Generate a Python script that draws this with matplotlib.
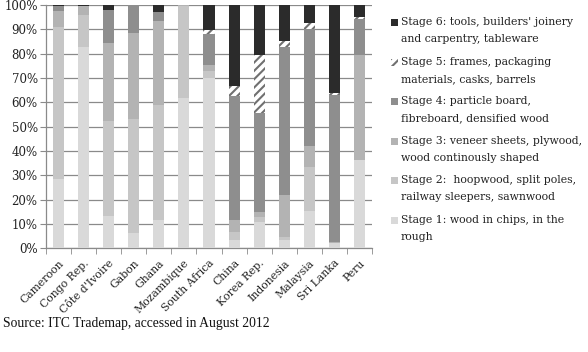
import matplotlib
matplotlib.use("Agg")
import matplotlib.pyplot as plt
from matplotlib.patches import Rectangle
import numpy as np

countries = ["Cameroon", "Congo Rep.", "Côte d'Ivoire", "Gabon", "Ghana", "Mozambique",
             "South Africa", "China", "Korea Rep.", "Indonesia", "Malaysia", "Sri Lanka", "Peru"]

stage1 = [28.4, 82.9, 13.3, 6.4, 11.6, 61.9, 69.9, 3.4, 11.0, 3.4, 15.5, 2.0, 36.3]
stage2 = [62.4, 13.0, 39.2, 46.8, 47.3, 37.8, 3.0, 3.2, 2.0, 1.4, 18.1, 0.3, 0.0]
stage3 = [6.8, 3.8, 31.7, 35.2, 34.7, 0.3, 2.4, 5.0, 2.0, 17.1, 8.6, 0.3, 43.2]
stage4 = [1.9, 0.0, 13.7, 11.6, 3.7, 0.0, 12.7, 51.1, 40.5, 61.0, 47.8, 60.4, 14.6]
stage5 = [0.0, 0.0, 0.0, 0.0, 0.0, 0.0, 1.9, 4.1, 24.0, 2.3, 2.5, 0.7, 0.9]
stage6 = [0.5, 0.3, 2.1, 0.0, 2.7, 0.0, 10.1, 33.2, 20.5, 14.8, 7.5, 36.3, 5.0]

stage_labels = [
    "Stage 1: wood in chips, in the\nrough",
    "Stage 2:  hoopwood, split poles,\nrailway sleepers, sawnwood",
    "Stage 3: veneer sheets, plywood,\nwood continously shaped",
    "Stage 4: particle board,\nfibreboard, densified wood",
    "Stage 5: frames, packaging\nmaterials, casks, barrels",
    "Stage 6: tools, builders' joinery\nand carpentry, tableware",
]
yticks = [0, 10, 20, 30, 40, 50, 60, 70, 80, 90, 100]
source = "Source: ITC Trademap, accessed in August 2012"

colors = ["#d9d9d9", "#c6c6c6", "#b3b3b3", "#8e8e8e", "#ffffff", "#2b2b2b"]
edges = ["none", "none", "none", "none", "#707070", "none"]
hatches = [None, None, None, None, "////", None]

serif = ["DejaVu Serif"]
plt.rcParams["hatch.linewidth"] = 1.5

fig = plt.figure(figsize=(5.88, 3.52), dpi=100)
ax = fig.add_axes([46/588, 1-248.3/352, (372-46)/588, (248.3-5)/352])

x = np.arange(len(countries))
series = [stage1, stage2, stage3, stage4, stage5, stage6]
bottom = np.zeros(len(countries))
for vals, c, e, h in zip(series, colors, edges, hatches):
    vals = np.array(vals)
    ax.bar(x, vals, 0.44, bottom=bottom, color=c, hatch=h, edgecolor=e, linewidth=0, zorder=3)
    bottom += vals

ax.set_xlim(-0.5, len(countries) - 0.5)
ax.set_ylim(0, 100)
ax.set_yticks(yticks)
ax.set_yticklabels([f"{v}%" for v in yticks], family=serif, fontsize=8.5, color="#222222")
ax.yaxis.grid(True, color="#8a8a8a", linewidth=0.9, zorder=0)
ax.set_axisbelow(True)
ax.set_xticks(x)
ax.set_xticklabels(countries, rotation=45, ha="right", rotation_mode="anchor",
                   family=serif, fontsize=7.8, color="#222222")
ax.set_xticks(np.arange(-0.5, len(countries)), minor=True)
ax.tick_params(axis="x", which="major", length=0, pad=7)
ax.tick_params(axis="x", which="minor", length=4, color="#8a8a8a")
ax.tick_params(axis="y", length=4, color="#8a8a8a", pad=2)
for s in ["top", "right"]:
    ax.spines[s].set_visible(False)
for s in ["left", "bottom"]:
    ax.spines[s].set_color("#8a8a8a")
    ax.spines[s].set_linewidth(0.9)

# legend (drawn manually, top entry = stage 6)
legend_y = [22, 62, 101, 141, 180, 220]
for i, idx in enumerate(range(5, -1, -1)):
    yc = legend_y[i]
    r = Rectangle((391/588, 1-(yc+4)/352), 7/588, 7/352, transform=fig.transFigure,
                  facecolor=colors[idx], hatch=hatches[idx], edgecolor=edges[idx], linewidth=0)
    fig.add_artist(r)
    fig.text(401/588, 1-(yc-5)/352, stage_labels[idx], family=serif, fontsize=7.85,
             va="top", ha="left", color="#222222", linespacing=1.85)

fig.text(3/588, 1-323/352, source, family=["Liberation Serif"], fontsize=9.8,
         va="center", ha="left", color="#111111")

fig.savefig("out.png", dpi=100)
